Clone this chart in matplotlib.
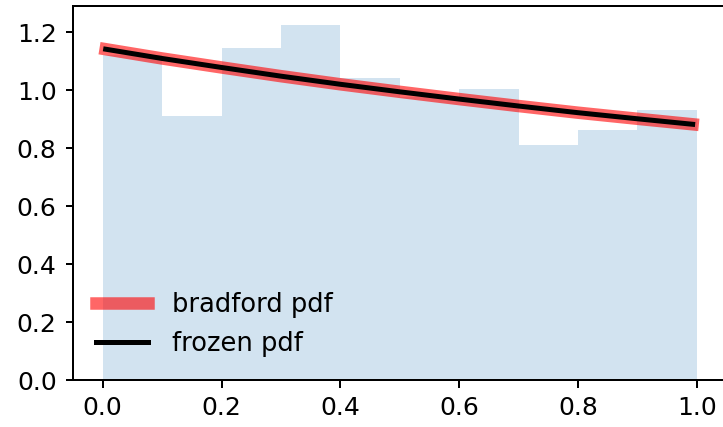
import matplotlib
matplotlib.use("Agg")
import matplotlib.pyplot as plt
import numpy as np

# Histogram of the random sample (density per bin)
bin_edges = [0.0, 0.1, 0.2, 0.3, 0.4, 0.5, 0.6, 0.7, 0.8, 0.9, 1.0]
bin_density = [1.12, 0.911, 1.144, 1.224, 1.042, 0.975, 1.002, 0.811, 0.861, 0.931]

# bradford pdf sampled along x
pdf_x = [0.005, 0.1, 0.2, 0.3, 0.4, 0.5, 0.6, 0.7, 0.8, 0.9, 0.993]
pdf_y = [1.141, 1.109, 1.078, 1.048, 1.020, 0.994, 0.969, 0.945, 0.922, 0.901, 0.882]

x_ticks = [0.0, 0.2, 0.4, 0.6, 0.8, 1.0]
y_ticks = [0.0, 0.2, 0.4, 0.6, 0.8, 1.0, 1.2]

DPI = 180
fig = plt.figure(figsize=(723 / DPI, 427 / DPI), dpi=DPI)
ax = fig.add_axes([73 / 723, 47 / 427, 653.5 / 723, 374 / 427])

ax.stairs(bin_density, bin_edges, fill=True, color="C0", alpha=0.2)
ax.plot(pdf_x, pdf_y, "r-", lw=5, alpha=0.6, label="bradford pdf")
ax.plot(pdf_x, pdf_y, "k-", lw=2, label="frozen pdf")

ax.set_xlim(-0.05, 1.05)
ax.set_ylim(0, 1.29)
ax.set_xticks(x_ticks)
ax.set_yticks(y_ticks)
ax.set_xticklabels([f"{v:.1f}" for v in x_ticks])
ax.set_yticklabels([f"{v:.1f}" for v in y_ticks])
ax.tick_params(axis="both", length=3)

ax.legend(loc="lower left", frameon=False, fontsize=10.3, handletextpad=0.95)

fig.savefig("out.png", dpi=DPI)
